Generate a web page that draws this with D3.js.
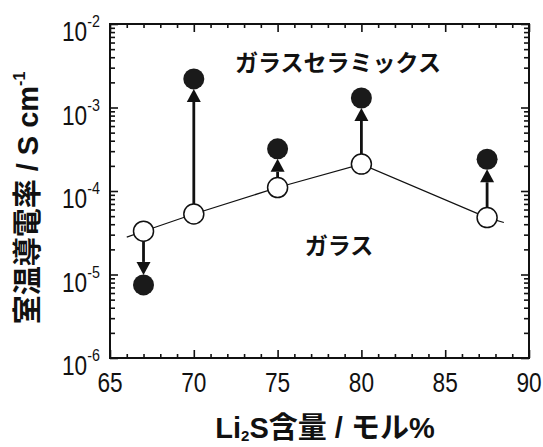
<!DOCTYPE html>
<html>
<head>
<meta charset="utf-8">
<script src="https://cdn.jsdelivr.net/npm/d3@7/dist/d3.min.js"></script>
<style>
  html, body { margin: 0; padding: 0; background: #fff; }
  svg { display: block; }
  .tick-label { font-family: "Liberation Sans", Arial, sans-serif; fill: #111; }
  .jp { font-family: "Liberation Sans", Arial, "Noto Sans CJK JP", sans-serif; font-weight: bold; fill: #111; }
</style>
</head>
<body>
<svg id="chart" width="543" height="447"></svg>
<script>
// Li2S content (mol%) of each sample
const composition = [67, 70, 75, 80, 87.5];
// Room-temperature conductivity of the glasses (S cm^-1)
const glassCond = [3.3e-5, 5.3e-5, 1.1e-4, 2.1e-4, 4.8e-5];
// Room-temperature conductivity after crystallisation (glass-ceramics)
const ceramicCond = [7.5e-6, 2.2e-3, 3.2e-4, 1.3e-3, 2.4e-4];
// Guide line drawn through the glass values
const trendX = [66.0, 67, 70, 75, 80, 87.5, 88.5];
const trendY = [2.8e-5, 3.3e-5, 5.3e-5, 1.1e-4, 2.1e-4, 4.8e-5, 4.2e-5];
// Axis ticks
const xMajorTicks = [65, 70, 75, 80, 85, 90];
const yDecadeExponents = [-6, -5, -4, -3, -2];

const svg = d3.select("#chart");
const plotL = 110, plotR = 529, plotT = 24, plotB = 358;
const narrow = 0.84;   // horizontal squeeze for the condensed tick numerals

const x = d3.scaleLinear().domain([65, 90]).range([plotL, plotR]);
const y = d3.scaleLog().domain([1e-6, 1e-2]).range([plotB, plotT]);

// minor ticks
const xMinor = d3.range(65, 91).filter(v => v % 5 !== 0);
const yMajor = yDecadeExponents.map(e => Math.pow(10, e));
const yMinor = [];
yDecadeExponents.slice(0, -1).forEach(e => {
  for (let m = 2; m <= 9; m++) yMinor.push(m * Math.pow(10, e));
});

function styleAxis(g) {
  g.select(".domain").remove();
  g.selectAll("text").remove();
  g.selectAll("line").attr("stroke", "#111").attr("stroke-width", 1.6);
}

// inward ticks on all four sides
svg.append("g").attr("transform", `translate(0,${plotB})`)
  .call(d3.axisBottom(x).tickValues(xMajorTicks).tickSize(-8)).call(styleAxis);
svg.append("g").attr("transform", `translate(0,${plotB})`)
  .call(d3.axisBottom(x).tickValues(xMinor).tickSize(-4)).call(styleAxis);
svg.append("g").attr("transform", `translate(0,${plotT})`)
  .call(d3.axisTop(x).tickValues(xMajorTicks).tickSize(-8)).call(styleAxis);
svg.append("g").attr("transform", `translate(0,${plotT})`)
  .call(d3.axisTop(x).tickValues(xMinor).tickSize(-4)).call(styleAxis);
svg.append("g").attr("transform", `translate(${plotL},0)`)
  .call(d3.axisLeft(y).tickValues(yMajor).tickSize(-8)).call(styleAxis);
svg.append("g").attr("transform", `translate(${plotL},0)`)
  .call(d3.axisLeft(y).tickValues(yMinor).tickSize(-5)).call(styleAxis);
svg.append("g").attr("transform", `translate(${plotR},0)`)
  .call(d3.axisRight(y).tickValues(yMajor).tickSize(-8)).call(styleAxis);
svg.append("g").attr("transform", `translate(${plotR},0)`)
  .call(d3.axisRight(y).tickValues(yMinor).tickSize(-5)).call(styleAxis);

// frame
svg.append("rect")
  .attr("x", plotL).attr("y", plotT)
  .attr("width", plotR - plotL).attr("height", plotB - plotT)
  .attr("fill", "none").attr("stroke", "#111").attr("stroke-width", 2);

// x tick labels
svg.append("g").selectAll("text").data(xMajorTicks).join("text")
  .attr("class", "tick-label")
  .attr("transform", d => `translate(${x(d)},${plotB + 34}) scale(${narrow},1)`)
  .attr("text-anchor", "middle")
  .attr("font-size", 27)
  .text(d => d);

// y tick labels as powers of ten
const yl = svg.append("g").selectAll("text").data(yDecadeExponents).join("text")
  .attr("class", "tick-label")
  .attr("transform", d => `translate(62,${y(Math.pow(10, d)) + 17}) scale(${narrow},1)`)
  .attr("font-size", 27);
yl.append("tspan").text("10");
yl.append("tspan").attr("font-size", 17).attr("dy", -14).text(d => "-" + Math.abs(d));

// guide line through the glass points
svg.append("path")
  .datum(trendX.map((v, i) => [v, trendY[i]]))
  .attr("fill", "none").attr("stroke", "#111").attr("stroke-width", 1.2)
  .attr("d", d3.line().x(d => x(d[0])).y(d => y(d[1])));

// arrows from glass to glass-ceramic
const r = 10;
const pts = composition.map((c, i) => ({ c, g: glassCond[i], k: ceramicCond[i] }));
const arrows = svg.append("g").selectAll("g").data(pts).join("g");
arrows.each(function (d) {
  const g = d3.select(this);
  const cx = x(d.c), y0 = y(d.g), y1 = y(d.k);
  const dir = y1 < y0 ? -1 : 1;          // -1 = upward
  const tipY = y1 - dir * r;
  const headH = 13, headW = 7;
  const baseY = tipY - dir * headH;
  g.append("line")
    .attr("x1", cx).attr("x2", cx)
    .attr("y1", y0 + dir * r).attr("y2", baseY)
    .attr("stroke", "#111").attr("stroke-width", 2.8);
  g.append("path")
    .attr("d", `M${cx},${tipY}L${cx - headW},${baseY}L${cx + headW},${baseY}Z`)
    .attr("fill", "#111");
});

// glass (open) and glass-ceramic (filled) markers
svg.append("g").selectAll("circle").data(pts).join("circle")
  .attr("cx", d => x(d.c)).attr("cy", d => y(d.g)).attr("r", r)
  .attr("fill", "#fff").attr("stroke", "#111").attr("stroke-width", 1.5);
svg.append("g").selectAll("circle").data(pts).join("circle")
  .attr("cx", d => x(d.c)).attr("cy", d => y(d.k)).attr("r", r + 0.5)
  .attr("fill", "#1a1a1a");

// in-plot labels
svg.append("text").attr("class", "jp")
  .attr("x", 338).attr("y", 71).attr("text-anchor", "middle")
  .attr("font-size", 23).text("ガラスセラミックス");
svg.append("text").attr("class", "jp")
  .attr("x", 339).attr("y", 254).attr("text-anchor", "middle")
  .attr("font-size", 23).text("ガラス");

// x-axis title
const xt = svg.append("text").attr("class", "jp")
  .attr("x", 325).attr("y", 438).attr("text-anchor", "middle")
  .attr("font-size", 29);
xt.append("tspan").text("Li");
xt.append("tspan").attr("font-size", 15).attr("dy", 3).text("2");
xt.append("tspan").attr("dy", -3).text("S含量 / モル%");

// y-axis title
const ytl = svg.append("text").attr("class", "jp")
  .attr("transform", "translate(38,198) rotate(-90)")
  .attr("text-anchor", "middle")
  .attr("font-size", 29);
ytl.append("tspan").text("室温導電率 / S cm");
ytl.append("tspan").attr("font-size", 16).attr("dy", -13).text("-1");
</script>
</body>
</html>
